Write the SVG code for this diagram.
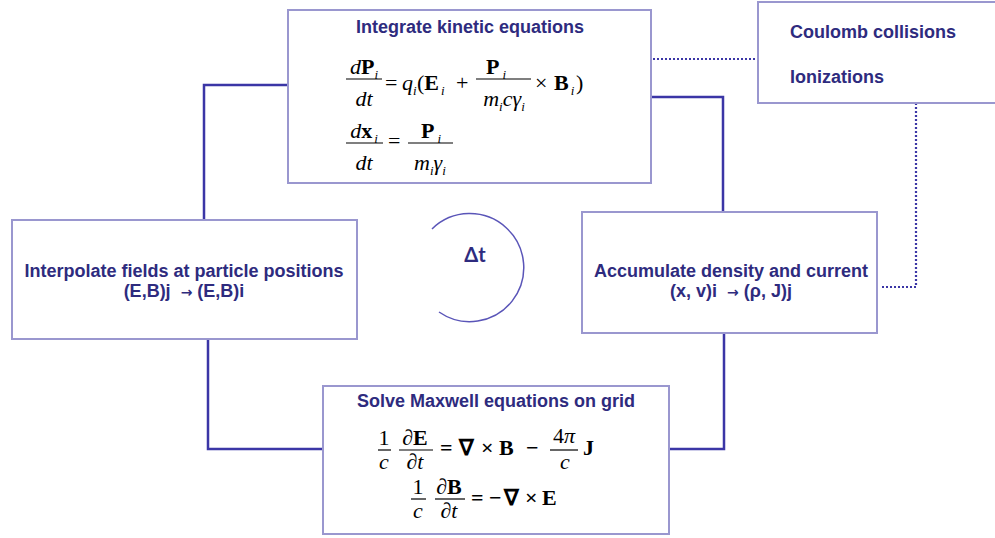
<svg xmlns="http://www.w3.org/2000/svg" width="995" height="538" viewBox="0 0 995 538">
<style>
.box{fill:#fff;stroke:#9a97cf;stroke-width:2}
.conn{fill:none;stroke:#3b36a6;stroke-width:2.5}
.dot{fill:none;stroke:#3b36a6;stroke-width:2.2;stroke-dasharray:2 2}
.t{font-family:"Liberation Sans",Arial,sans-serif;font-weight:bold;font-size:18px;fill:#2e2b7e}
.arr{font-family:"DejaVu Sans",sans-serif;font-size:14px;font-weight:bold}
.m{font-family:"Liberation Serif","Times New Roman",serif;font-size:22px;fill:#000}
.m2{font-family:"Liberation Serif","Times New Roman",serif;font-size:22px;fill:#000}
.it{font-style:italic}
.b{font-weight:bold}
.sub{font-size:13px;font-style:italic}
.fl{stroke:#000;stroke-width:1.2}
</style>
<rect width="995" height="538" fill="#fff"/>
<g id="connectors">
<path class="conn" d="M204 220 V85 H288"/>
<path class="conn" d="M651 97 H723 V212"/>
<path class="conn" d="M724 333 V449 H669"/>
<path class="conn" d="M323 449 H208 V339"/>
<path class="dot" d="M653 59 H758"/>
<path class="dot" d="M916 103 V287 H880"/>
</g>
<g id="integrate">
<rect class="box" x="288" y="10" width="363" height="173"/>
<text class="t" x="470" y="33" text-anchor="middle">Integrate kinetic equations</text>
<text class="m" x="364" y="74" text-anchor="middle"><tspan class="it">d</tspan><tspan class="b">P</tspan><tspan class="sub" dy="5">i</tspan></text>
<line class="fl" x1="346" y1="79" x2="382" y2="79"/>
<text class="m it" x="364" y="106" text-anchor="middle">dt</text>
<text class="m" y="90"><tspan x="385">=</tspan><tspan x="402" class="it">q</tspan><tspan class="sub" dy="5">i</tspan><tspan dy="-5" x="417">(</tspan><tspan class="b">E</tspan><tspan class="sub" dy="5" dx="2">i</tspan><tspan dy="-5" x="456">+</tspan></text>
<text class="m" x="496" y="74" text-anchor="middle"><tspan class="b">P</tspan><tspan class="sub" dy="5" dx="3">i</tspan></text>
<line class="fl" x1="476" y1="79" x2="531" y2="79"/>
<text class="m" x="504" y="106" text-anchor="middle"><tspan class="it">m</tspan><tspan class="sub" dy="5">i</tspan><tspan class="it" dy="-5">cγ</tspan><tspan class="sub" dy="5">i</tspan></text>
<text class="m" y="90"><tspan x="535">×</tspan><tspan x="554" class="b">B</tspan><tspan class="sub" dy="5" dx="2">i</tspan><tspan dy="-5" x="576">)</tspan></text>
<text class="m" x="364" y="138" text-anchor="middle"><tspan class="it">d</tspan><tspan class="b">x</tspan><tspan class="sub" dy="5" dx="2">i</tspan></text>
<line class="fl" x1="346" y1="143" x2="383" y2="143"/>
<text class="m it" x="364" y="170" text-anchor="middle">dt</text>
<text class="m" x="388" y="148">=</text>
<text class="m" x="431" y="138" text-anchor="middle"><tspan class="b">P</tspan><tspan class="sub" dy="5" dx="3">i</tspan></text>
<line class="fl" x1="408" y1="143" x2="453" y2="143"/>
<text class="m" x="430" y="170" text-anchor="middle"><tspan class="it">m</tspan><tspan class="sub" dy="5">i</tspan><tspan class="it" dy="-5">γ</tspan><tspan class="sub" dy="5">i</tspan></text>
</g>
<g id="collisions">
<rect class="box" x="758" y="2" width="245" height="101"/>
<text class="t" x="790" y="38">Coulomb collisions</text>
<text class="t" x="790" y="83">Ionizations</text>
</g>
<g id="interpolate">
<rect class="box" x="12" y="220" width="345" height="119"/>
<text class="t" x="184" y="277" text-anchor="middle">Interpolate fields at particle positions</text>
<text class="t" x="184" y="297" text-anchor="middle">(E,B)j&#160;&#160;<tspan class="arr">→</tspan>&#160;(E,B)i</text>
</g>
<g id="accumulate">
<rect class="box" x="582" y="212" width="295" height="121"/>
<text class="t" x="731" y="277" text-anchor="middle">Accumulate density and current</text>
<text class="t" x="731" y="297" text-anchor="middle">(x, v)i&#160;&#160;<tspan class="arr">→</tspan>&#160;(ρ, J)j</text>
</g>
<g id="maxwell">
<rect class="box" x="323" y="386" width="346" height="148"/>
<text class="t" x="496" y="407" text-anchor="middle">Solve Maxwell equations on grid</text>
<text class="m2" x="384" y="445" text-anchor="middle">1</text>
<line class="fl" x1="378" y1="450" x2="391" y2="450"/>
<text class="m2 it" x="384" y="469" text-anchor="middle">c</text>
<text class="m2" x="415" y="445" text-anchor="middle"><tspan class="it">∂</tspan><tspan class="b">E</tspan></text>
<line class="fl" x1="399" y1="450" x2="433" y2="450"/>
<text class="m2 it" x="415" y="469" text-anchor="middle">∂t</text>
<text class="m b" y="455"><tspan x="440">=</tspan><tspan x="459">∇</tspan><tspan x="481">×</tspan><tspan x="499">B</tspan><tspan x="526">−</tspan></text>
<text class="m" x="564" y="443" text-anchor="middle">4<tspan class="it">π</tspan></text>
<line class="fl" x1="550" y1="450" x2="578" y2="450"/>
<text class="m it" x="565" y="469" text-anchor="middle">c</text>
<text class="m b" x="583" y="455">J</text>
<text class="m2" x="418" y="494" text-anchor="middle">1</text>
<line class="fl" x1="411" y1="499" x2="426" y2="499"/>
<text class="m2 it" x="418" y="518" text-anchor="middle">c</text>
<text class="m2" x="449" y="494" text-anchor="middle"><tspan class="it">∂</tspan><tspan class="b">B</tspan></text>
<line class="fl" x1="435" y1="499" x2="465" y2="499"/>
<text class="m2 it" x="449" y="518" text-anchor="middle">∂t</text>
<text class="m b" y="505"><tspan x="471">=</tspan><tspan x="489">−</tspan><tspan x="504">∇</tspan><tspan x="525">×</tspan><tspan x="542">E</tspan></text>
</g>
<g id="timestep">
<path d="M432 229 A54 54 0 1 1 439 312" fill="none" stroke="#5a55b8" stroke-width="1.5"/>
<text x="475" y="262" text-anchor="middle" font-family="Lato,'Open Sans',sans-serif" font-weight="bold" font-size="20" fill="#2e2b7e">Δt</text>
</g>
</svg>
